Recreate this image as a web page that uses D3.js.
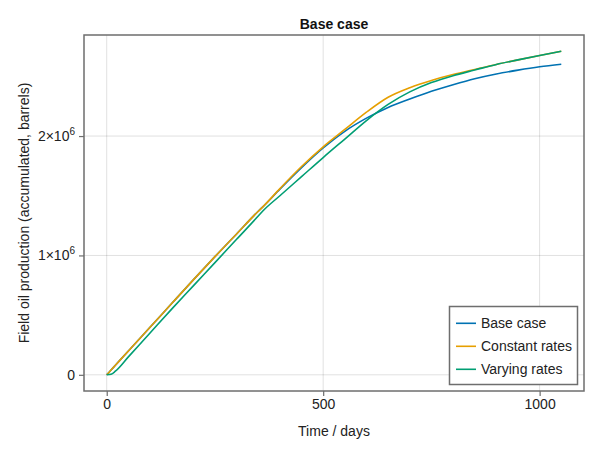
<!DOCTYPE html>
<html><head><meta charset="utf-8">
<script src="https://cdn.jsdelivr.net/npm/d3@7"></script>
<style>body{margin:0;background:#fff}text{font-family:"Liberation Sans",Arial,sans-serif}</style>
</head><body><svg id="c" width="600" height="450"></svg>
<script>
const days = [0,10,20,50,100,150,200,250,300,350,360,400,450,500,550,600,650,700,750,800,850,900,950,1000,1050];
const baseCase =     [0,0.04,0.08,0.2,0.398,0.597,0.795,0.99,1.18,1.37,1.405,1.555,1.735,1.9,2.04,2.15,2.24,2.31,2.375,2.43,2.48,2.52,2.552,2.58,2.602];
const constantRates =[0,0.04,0.08,0.2,0.398,0.597,0.795,0.99,1.18,1.37,1.405,1.56,1.745,1.91,2.055,2.2,2.325,2.405,2.466,2.515,2.558,2.60,2.638,2.675,2.711];
const varyingRates = [0,0.005,0.03,0.15,0.35,0.55,0.745,0.94,1.135,1.33,1.37,1.50,1.66,1.82,1.975,2.13,2.265,2.37,2.448,2.506,2.553,2.60,2.638,2.675,2.711];
const seriesNames = ["Base case","Constant rates","Varying rates"];
const seriesColors = ["#0072B2","#E69F00","#009E73"];
const xTicks = [0,500,1000];
const yTicks = [0,1,2];
const title = "Base case", xLabel = "Time / days", yLabel = "Field oil production (accumulated, barrels)";

const svg = d3.select("#c");
const L=84,R=584,T=35,B=391;
const x = d3.scaleLinear().domain([-52.5,1102.5]).range([L,R]);
const ymax=2.711, pad=ymax*0.05;
const y = d3.scaleLinear().domain([-pad,ymax+pad]).range([B,T]);

// grid
svg.append("g").selectAll("line").data(xTicks).join("line")
  .attr("x1",d=>x(d)).attr("x2",d=>x(d)).attr("y1",T).attr("y2",B)
  .attr("stroke","#000").attr("stroke-opacity",0.12);
svg.append("g").selectAll("line").data(yTicks).join("line")
  .attr("y1",d=>y(d)).attr("y2",d=>y(d)).attr("x1",L).attr("x2",R)
  .attr("stroke","#000").attr("stroke-opacity",0.12);

// lines
const all=[baseCase,constantRates,varyingRates];
const line = d3.line().x((d,i)=>x(days[i])).y(d=>y(d)).curve(d3.curveMonotoneX);
all.forEach((s,k)=>{
  svg.append("path").datum(s).attr("d",line).attr("fill","none")
    .attr("stroke",seriesColors[k]).attr("stroke-width",1.6);
});

// frame
svg.append("rect").attr("x",L).attr("y",T).attr("width",R-L).attr("height",B-T)
  .attr("fill","none").attr("stroke","#6e6e6e").attr("stroke-width",1.5);

// axes ticks
const xa = d3.axisBottom(x).tickValues(xTicks).tickSize(5).tickPadding(3).tickFormat(d3.format("d"));
const gx = svg.append("g").attr("transform",`translate(0,${B})`).call(xa);
gx.select(".domain").remove();
gx.selectAll(".tick line").attr("stroke","#6e6e6e").attr("stroke-width",1.2);
gx.selectAll(".tick text").attr("font-size",14).attr("fill","#222").attr("font-family","Liberation Sans, Arial, sans-serif");

const ya = d3.axisLeft(y).tickValues(yTicks).tickSize(5).tickPadding(4).tickFormat("");
const gy = svg.append("g").attr("transform",`translate(${L},0)`).call(ya);
gy.select(".domain").remove();
gy.selectAll(".tick line").attr("stroke","#6e6e6e").attr("stroke-width",1.2);
gy.selectAll(".tick text").each(function(d){
  const t=d3.select(this).attr("font-size",14).attr("fill","#222").attr("font-family","Liberation Sans, Arial, sans-serif");
  if(d===0){t.text("0");}
  else{
    t.append("tspan").text(d+"×10");
    t.append("tspan").text("6").attr("font-size",10).attr("dy",-6);
  }
});

// labels
svg.append("text").attr("x",(L+R)/2).attr("y",29).attr("text-anchor","middle")
  .attr("font-weight","bold").attr("font-size",14).attr("fill","#111").text(title);
svg.append("text").attr("x",(L+R)/2).attr("y",436).attr("text-anchor","middle")
  .attr("font-size",14).attr("fill","#222").text(xLabel);
svg.append("text").attr("transform",`translate(29,${(T+B)/2}) rotate(-90)`).attr("text-anchor","middle")
  .attr("font-size",14).attr("fill","#222").text(yLabel);

// legend
const lg = svg.append("g");
lg.append("rect").attr("x",449.5).attr("y",306.5).attr("width",128).attr("height",78)
  .attr("fill","#fff").attr("stroke","#6e6e6e").attr("stroke-width",1.5);
seriesNames.forEach((n,k)=>{
  const yy=323.3+k*23;
  lg.append("line").attr("x1",456).attr("x2",476).attr("y1",yy).attr("y2",yy)
    .attr("stroke",seriesColors[k]).attr("stroke-width",1.6);
  lg.append("text").attr("x",481).attr("y",yy+5).attr("font-size",14).attr("fill","#222").text(n);
});
</script></body></html>
